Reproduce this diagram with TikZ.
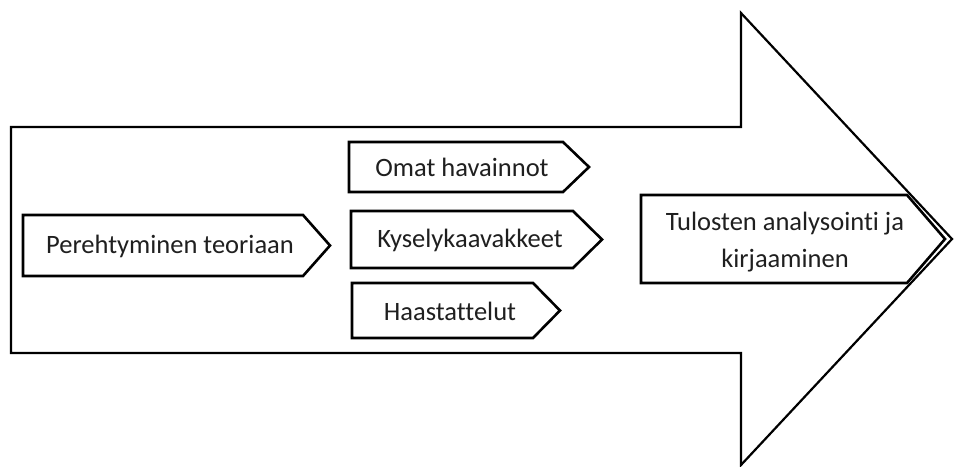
\documentclass[tikz,border=0pt]{standalone}
\usepackage{fontspec}
\setmainfont[RawFeature={-liga;-clig;-dlig;-calt}]{Carlito}
\begin{document}
\begin{tikzpicture}[x=1pt,y=-1pt,
  big/.style={draw=black,line width=2.2pt,line join=miter},
  tag/.style={draw=black,line width=2.6pt,fill=white,line join=miter},
  lbl/.style={font=\fontsize{26.5}{33}\selectfont,text=black!88,align=center,inner sep=0pt}]
\useasboundingbox (0,0) rectangle (956,466);
\fill[white] (0,0) rectangle (956,466);
% big arrow
\draw[big] (11,127) -- (741,127) -- (741,13) -- (952,239) -- (741,465) -- (741,353) -- (11,353) -- cycle;
% tags
\draw[tag] (23,215) -- (303,215) -- (330,245.5) -- (303,276) -- (23,276) -- cycle;
\draw[tag] (349,142) -- (563,142) -- (589,167) -- (563,192) -- (349,192) -- cycle;
\draw[tag] (351,211) -- (573,211) -- (602,239.5) -- (573,268) -- (351,268) -- cycle;
\draw[tag] (352,283) -- (533,283) -- (560,310.5) -- (533,338) -- (352,338) -- cycle;
\draw[tag] (641,195) -- (907,195) -- (945,239) -- (907,283) -- (641,283) -- cycle;
% labels
\node[lbl] (pere) at (170,246) {Perehtyminen teoriaan};
\node[lbl] (omat) at (462,167) {Omat havainnot};
\node[lbl] (kysely) at (470,240) {Kyselykaavakkeet};
\node[lbl] (haast) at (450,311) {Haastattelut};
\node[lbl] (tulos) at (785,242) {Tulosten analysointi ja\\[4pt]kirjaaminen};
\end{tikzpicture}
\end{document}
